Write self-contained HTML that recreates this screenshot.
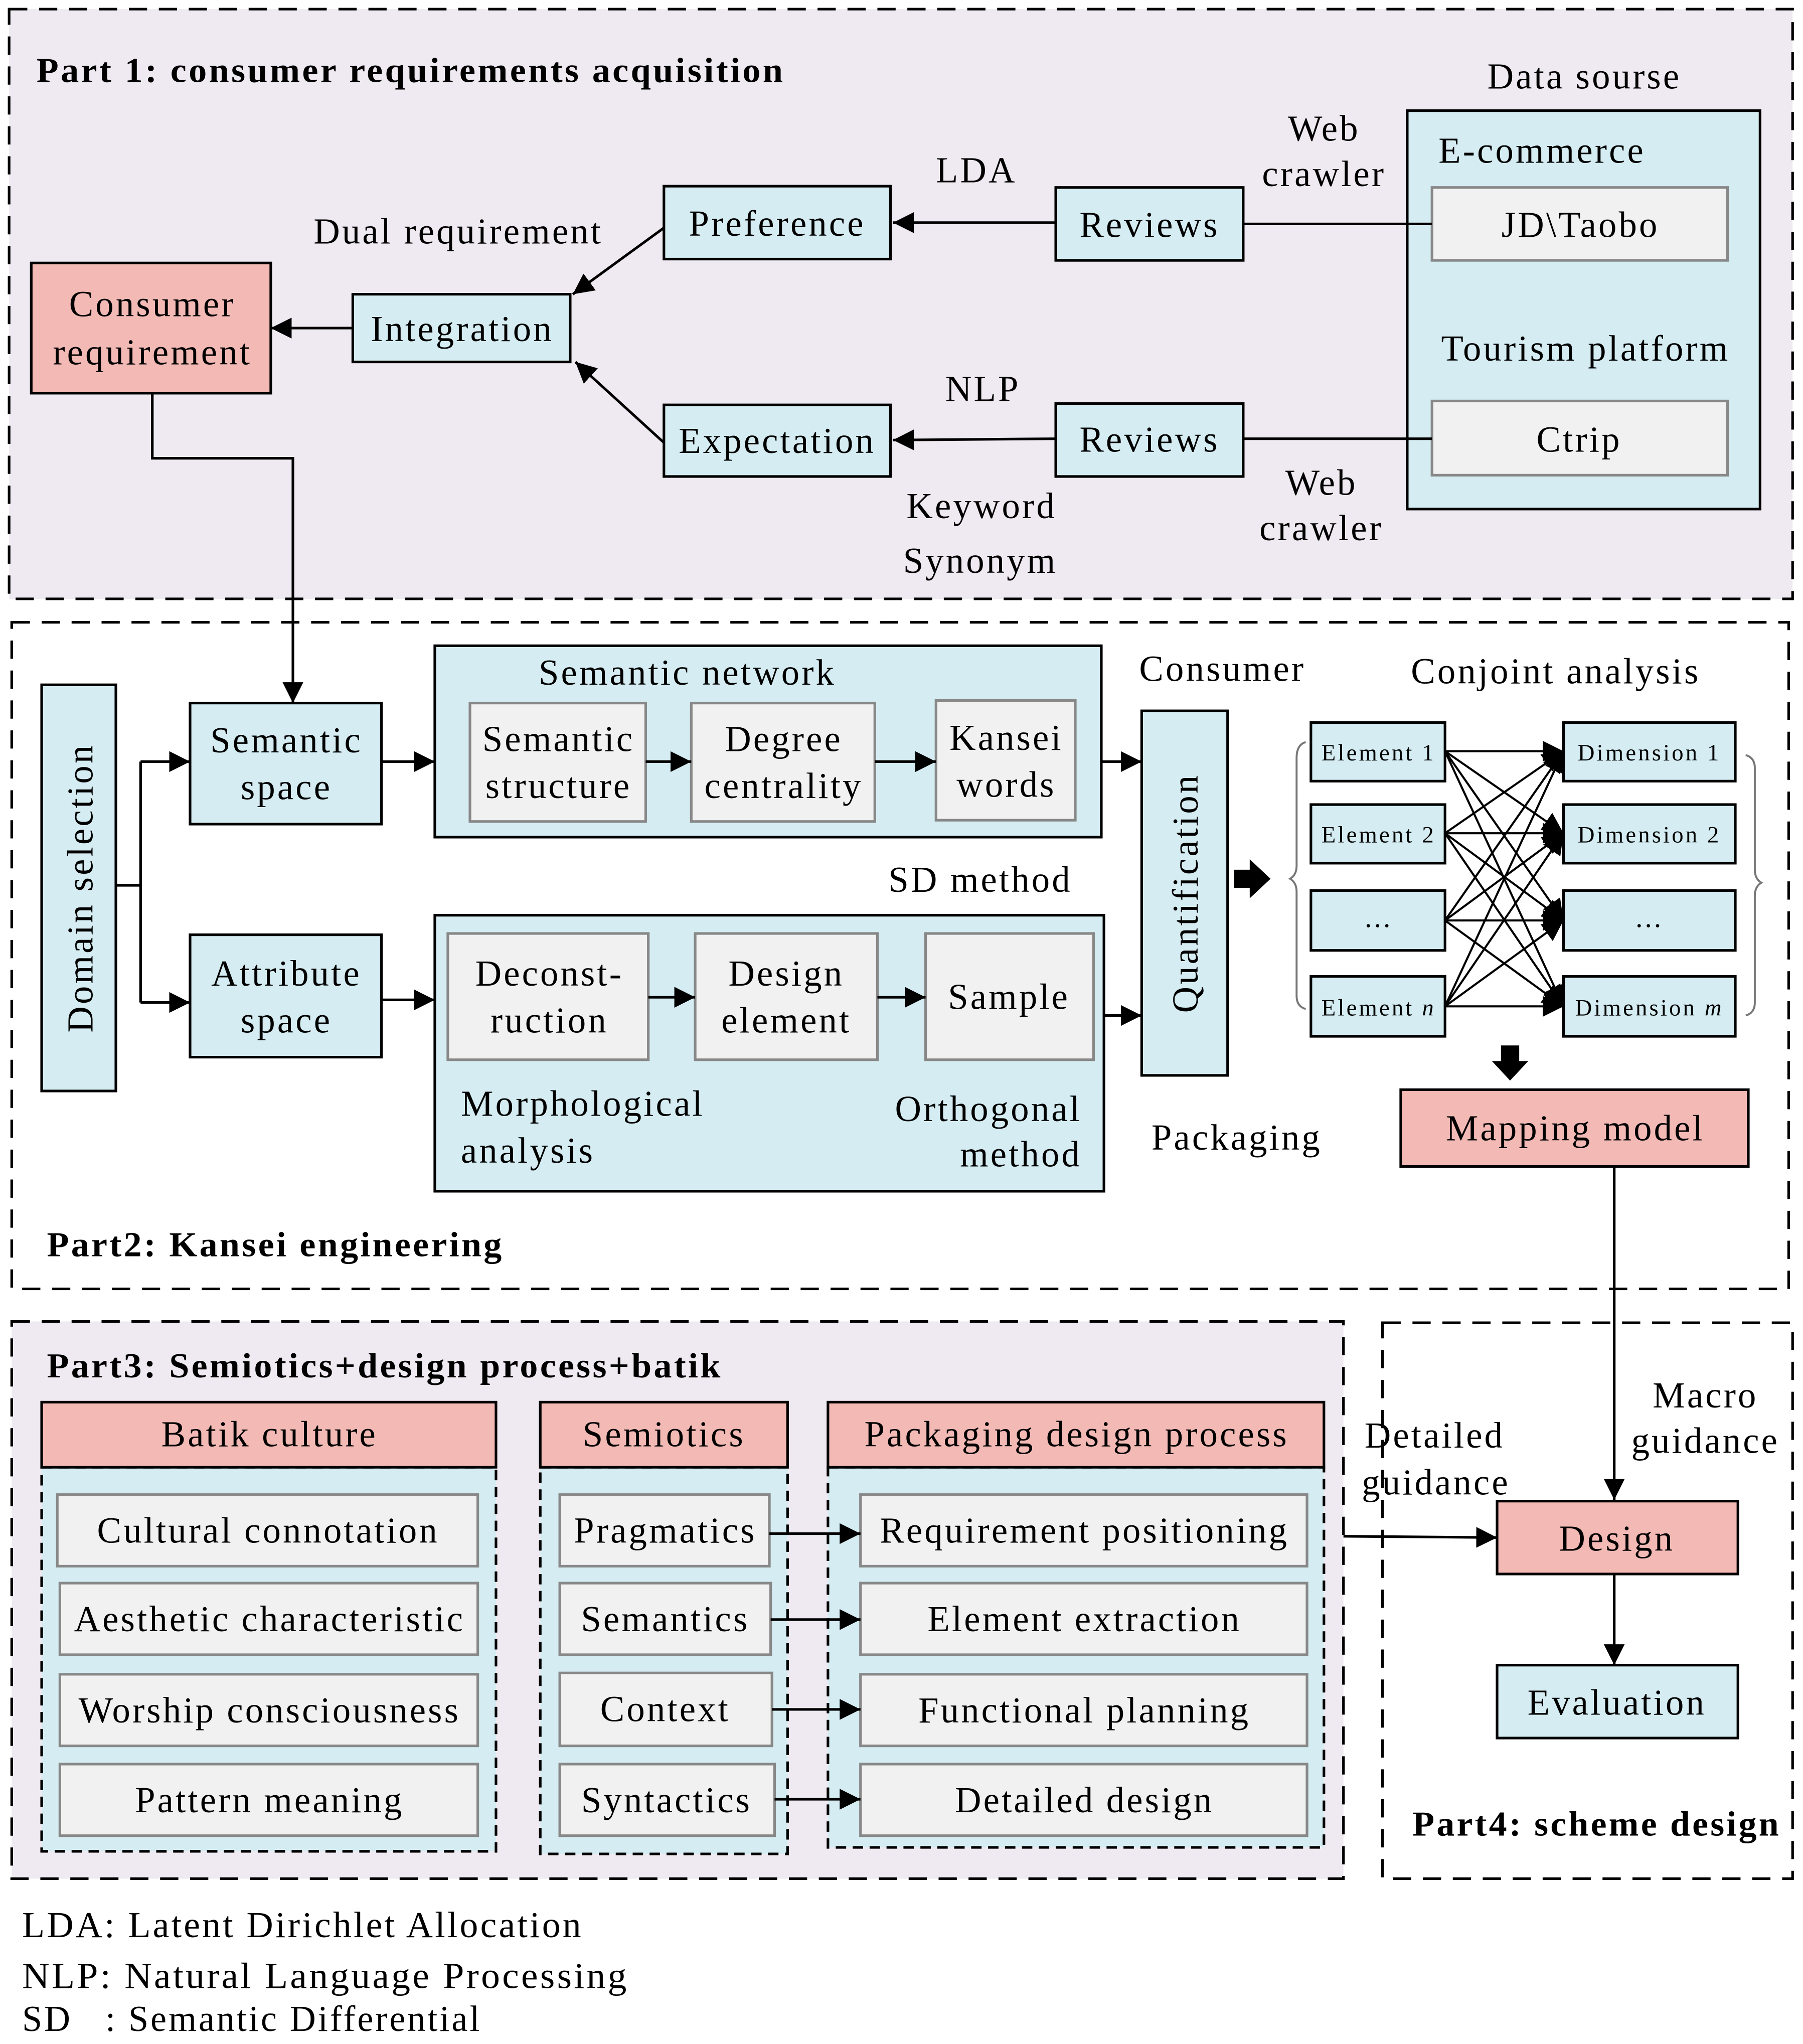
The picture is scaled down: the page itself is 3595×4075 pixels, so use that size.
<!DOCTYPE html>
<html><head><meta charset="utf-8"><style>
html,body{margin:0;padding:0;background:#fff;}
svg{display:block;}
text{font-family:"Liberation Serif",serif;fill:#000;letter-spacing:1.6px;}
</style></head><body>
<svg width="3595" height="4075" viewBox="0 0 1385 1570" preserveAspectRatio="none" xmlns="http://www.w3.org/2000/svg">
<defs>
<marker id="b" viewBox="0 0 10 10" refX="10" refY="5" markerWidth="16" markerHeight="16" markerUnits="userSpaceOnUse" orient="auto"><path d="M0,0L10,5L0,10z" fill="#000"/></marker>
</defs>
<g stroke-width="2" stroke="#000">
<rect x="7" y="7" width="1370" height="453" fill="#efeaf1" stroke-dasharray="14,9"/>
<rect x="9" y="478" width="1365" height="512" fill="#fff" stroke-dasharray="14,9"/>
<rect x="9" y="1015" width="1023" height="428" fill="#efeaf1" stroke-dasharray="14,9"/>
<rect x="1062" y="1016" width="315" height="427" fill="#fff" stroke-dasharray="14,9"/>
</g>
<g stroke="#000" stroke-width="2">
<rect x="1081" y="85" width="271" height="306" fill="#d5edf2"/>
<rect x="1100" y="144" width="227" height="56" fill="#f1f1f1" stroke="#888"/>
<rect x="1100" y="308" width="227" height="57" fill="#f1f1f1" stroke="#888"/>
<rect x="811" y="144" width="144" height="56" fill="#d5edf2"/>
<rect x="811" y="310" width="144" height="56" fill="#d5edf2"/>
<rect x="510" y="143" width="174" height="56" fill="#d5edf2"/>
<rect x="510" y="311" width="174" height="55" fill="#d5edf2"/>
<rect x="271" y="226" width="167" height="52" fill="#d5edf2"/>
<rect x="24" y="202" width="184" height="100" fill="#f3bab5"/>
<line x1="955" y1="172" x2="1100" y2="172"/>
<line x1="955" y1="337" x2="1100" y2="337"/>
<line x1="811" y1="171" x2="686" y2="171" marker-end="url(#b)"/>
<line x1="811" y1="337" x2="686" y2="338" marker-end="url(#b)"/>
<line x1="510" y1="175" x2="440" y2="226" marker-end="url(#b)"/>
<line x1="510" y1="340" x2="442" y2="278" marker-end="url(#b)"/>
<line x1="271" y1="252" x2="208" y2="252" marker-end="url(#b)"/>
<polyline points="117,302 117,352 225,352 225,540" fill="none" marker-end="url(#b)"/>
<rect x="32" y="526" width="57" height="312" fill="#d5edf2"/>
<polyline points="89,680 108,680" fill="none"/>
<line x1="108" y1="585" x2="108" y2="770"/>
<line x1="108" y1="585" x2="146" y2="585" marker-end="url(#b)"/>
<line x1="108" y1="770" x2="146" y2="770" marker-end="url(#b)"/>
<rect x="146" y="540" width="147" height="93" fill="#d5edf2"/>
<rect x="146" y="718" width="147" height="94" fill="#d5edf2"/>
<line x1="293" y1="585" x2="334" y2="585" marker-end="url(#b)"/>
<line x1="293" y1="768" x2="334" y2="768" marker-end="url(#b)"/>
<rect x="334" y="496" width="512" height="147" fill="#d5edf2"/>
<rect x="361" y="540" width="135" height="91" fill="#f1f1f1" stroke="#888"/>
<rect x="531" y="540" width="141" height="91" fill="#f1f1f1" stroke="#888"/>
<rect x="719" y="538" width="107" height="92" fill="#f1f1f1" stroke="#888"/>
<line x1="496" y1="585" x2="531" y2="585" marker-end="url(#b)"/>
<line x1="672" y1="585" x2="719" y2="585" marker-end="url(#b)"/>
<line x1="846" y1="585" x2="877" y2="585" marker-end="url(#b)"/>
<rect x="334" y="703" width="514" height="212" fill="#d5edf2"/>
<rect x="344" y="717" width="154" height="97" fill="#f1f1f1" stroke="#888"/>
<rect x="534" y="717" width="140" height="97" fill="#f1f1f1" stroke="#888"/>
<rect x="711" y="717" width="129" height="97" fill="#f1f1f1" stroke="#888"/>
<line x1="498" y1="766" x2="534" y2="766" marker-end="url(#b)"/>
<line x1="674" y1="766" x2="711" y2="766" marker-end="url(#b)"/>
<line x1="848" y1="780" x2="877" y2="780" marker-end="url(#b)"/>
<rect x="877" y="546" width="66" height="280" fill="#d5edf2"/>
<rect x="1007" y="555" width="103" height="45" fill="#d5edf2"/>
<rect x="1007" y="618" width="103" height="45" fill="#d5edf2"/>
<rect x="1007" y="684" width="103" height="46" fill="#d5edf2"/>
<rect x="1007" y="750" width="103" height="46" fill="#d5edf2"/>
<rect x="1201" y="555" width="132" height="45" fill="#d5edf2"/>
<rect x="1201" y="618" width="132" height="45" fill="#d5edf2"/>
<rect x="1201" y="684" width="132" height="46" fill="#d5edf2"/>
<rect x="1201" y="750" width="132" height="46" fill="#d5edf2"/>
<g stroke-width="1.6">
<line x1="1110" y1="577" x2="1201" y2="577" marker-end="url(#b)"/>
<line x1="1110" y1="577" x2="1201" y2="640" marker-end="url(#b)"/>
<line x1="1110" y1="577" x2="1201" y2="707" marker-end="url(#b)"/>
<line x1="1110" y1="577" x2="1201" y2="773" marker-end="url(#b)"/>
<line x1="1110" y1="640" x2="1201" y2="577" marker-end="url(#b)"/>
<line x1="1110" y1="640" x2="1201" y2="640" marker-end="url(#b)"/>
<line x1="1110" y1="640" x2="1201" y2="707" marker-end="url(#b)"/>
<line x1="1110" y1="640" x2="1201" y2="773" marker-end="url(#b)"/>
<line x1="1110" y1="707" x2="1201" y2="577" marker-end="url(#b)"/>
<line x1="1110" y1="707" x2="1201" y2="640" marker-end="url(#b)"/>
<line x1="1110" y1="707" x2="1201" y2="707" marker-end="url(#b)"/>
<line x1="1110" y1="707" x2="1201" y2="773" marker-end="url(#b)"/>
<line x1="1110" y1="773" x2="1201" y2="577" marker-end="url(#b)"/>
<line x1="1110" y1="773" x2="1201" y2="640" marker-end="url(#b)"/>
<line x1="1110" y1="773" x2="1201" y2="707" marker-end="url(#b)"/>
<line x1="1110" y1="773" x2="1201" y2="773" marker-end="url(#b)"/>
</g>
<path d="M1003,570 Q996,572 996,582 L996,665 Q996,672 991,675 Q996,678 996,685 L996,765 Q996,773 1003,775" fill="none" stroke="#777" stroke-width="1.5"/>
<path d="M1341,580 Q1348,582 1348,590 L1348,668 Q1348,675 1353,678 Q1348,681 1348,688 L1348,770 Q1348,778 1341,780" fill="none" stroke="#777" stroke-width="1.5"/>
<rect x="1076" y="837" width="267" height="59" fill="#f3bab5"/>
<line x1="1240" y1="896" x2="1240" y2="1152" marker-end="url(#b)"/>
<rect x="32" y="1127" width="349" height="295" fill="#d5edf2" stroke-dasharray="8,5"/>
<rect x="32" y="1077" width="349" height="50" fill="#f3bab5"/>
<rect x="415" y="1127" width="190" height="297" fill="#d5edf2" stroke-dasharray="8,5"/>
<rect x="415" y="1077" width="190" height="50" fill="#f3bab5"/>
<rect x="636" y="1127" width="381" height="292" fill="#d5edf2" stroke-dasharray="8,5"/>
<rect x="636" y="1077" width="381" height="50" fill="#f3bab5"/>
<g fill="#f1f1f1" stroke="#888">
<rect x="44" y="1148" width="323" height="55"/>
<rect x="46" y="1216" width="321" height="55"/>
<rect x="46" y="1286" width="321" height="55"/>
<rect x="46" y="1355" width="321" height="55"/>
<rect x="430" y="1148" width="161" height="55"/>
<rect x="430" y="1216" width="162" height="55"/>
<rect x="430" y="1285" width="163" height="56"/>
<rect x="430" y="1355" width="165" height="55"/>
<rect x="661" y="1148" width="343" height="55"/>
<rect x="661" y="1216" width="343" height="55"/>
<rect x="661" y="1286" width="343" height="55"/>
<rect x="661" y="1355" width="343" height="55"/>
</g>
<line x1="591" y1="1178" x2="661" y2="1178" marker-end="url(#b)"/>
<line x1="592" y1="1244" x2="661" y2="1244" marker-end="url(#b)"/>
<line x1="593" y1="1313" x2="661" y2="1313" marker-end="url(#b)"/>
<line x1="595" y1="1382" x2="661" y2="1382" marker-end="url(#b)"/>
<line x1="1032" y1="1180" x2="1150" y2="1181" marker-end="url(#b)"/>
<rect x="1150" y="1153" width="185" height="56" fill="#f3bab5"/>
<rect x="1150" y="1279" width="185" height="56" fill="#d5edf2"/>
<line x1="1240" y1="1209" x2="1240" y2="1279" marker-end="url(#b)"/>
</g>
<path d="M948,668 L960,668 L960,660 L976,675 L960,690 L960,682 L948,682 z" fill="#000"/>
<path d="M1153,803 L1167,803 L1167,815 L1174,815 L1160,830 L1146,815 L1153,815 z" fill="#000"/>

<g font-size="28">
<text x="28" y="63" font-weight="bold" font-size="27" textLength="575" lengthAdjust="spacingAndGlyphs">Part 1: consumer requirements acquisition</text>
<text x="1217" y="68" text-anchor="middle">Data sourse</text>
<text x="1105" y="125">E-commerce</text>
<text x="1214" y="182" text-anchor="middle">JD\Taobo</text>
<text x="1218" y="277" text-anchor="middle">Tourism platform</text>
<text x="1213" y="347" text-anchor="middle">Ctrip</text>
<text x="1017" y="108" text-anchor="middle">Web</text>
<text x="1017" y="143" text-anchor="middle">crawler</text>
<text x="1015" y="380" text-anchor="middle">Web</text>
<text x="1015" y="415" text-anchor="middle">crawler</text>
<text x="883" y="182" text-anchor="middle">Reviews</text>
<text x="883" y="347" text-anchor="middle">Reviews</text>
<text x="597" y="181" text-anchor="middle">Preference</text>
<text x="597" y="348" text-anchor="middle">Expectation</text>
<text x="750" y="140" text-anchor="middle">LDA</text>
<text x="755" y="308" text-anchor="middle">NLP</text>
<text x="754" y="398" text-anchor="middle">Keyword</text>
<text x="753" y="440" text-anchor="middle">Synonym</text>
<text x="352" y="187" text-anchor="middle">Dual requirement</text>
<text x="355" y="262" text-anchor="middle">Integration</text>
<text x="117" y="243" text-anchor="middle">Consumer</text>
<text x="117" y="280" text-anchor="middle">requirement</text>

<text x="0" y="0" text-anchor="middle" transform="translate(71,682) rotate(-90)">Domain selection</text>
<text x="220" y="578" text-anchor="middle">Semantic</text>
<text x="220" y="614" text-anchor="middle">space</text>
<text x="220" y="757" text-anchor="middle">Attribute</text>
<text x="220" y="793" text-anchor="middle">space</text>
<text x="528" y="526" text-anchor="middle">Semantic network</text>
<text x="429" y="577" text-anchor="middle">Semantic</text>
<text x="429" y="613" text-anchor="middle">structure</text>
<text x="602" y="577" text-anchor="middle">Degree</text>
<text x="602" y="613" text-anchor="middle">centrality</text>
<text x="773" y="576" text-anchor="middle">Kansei</text>
<text x="773" y="612" text-anchor="middle">words</text>
<text x="0" y="0" text-anchor="middle" transform="translate(920,686) rotate(-90)">Quantification</text>
<text x="939" y="523" text-anchor="middle">Consumer</text>
<text x="753" y="685" text-anchor="middle">SD method</text>
<text x="950" y="883" text-anchor="middle">Packaging</text>
<text x="422" y="757" text-anchor="middle">Deconst-</text>
<text x="422" y="793" text-anchor="middle">ruction</text>
<text x="604" y="757" text-anchor="middle">Design</text>
<text x="604" y="793" text-anchor="middle">element</text>
<text x="775" y="775" text-anchor="middle">Sample</text>
<text x="354" y="857">Morphological</text>
<text x="354" y="893">analysis</text>
<text x="831" y="861" text-anchor="end">Orthogonal</text>
<text x="831" y="896" text-anchor="end">method</text>
<text x="1195" y="525" text-anchor="middle">Conjoint analysis</text>
<g font-size="18" style="letter-spacing:1.4px">
<text x="1059" y="584" text-anchor="middle">Element 1</text>
<text x="1059" y="647" text-anchor="middle">Element 2</text>
<text x="1059" y="712" text-anchor="middle" font-size="22">...</text>
<text x="1059" y="780" text-anchor="middle">Element <tspan font-style="italic">n</tspan></text>
<text x="1267" y="584" text-anchor="middle">Dimension 1</text>
<text x="1267" y="647" text-anchor="middle">Dimension 2</text>
<text x="1267" y="712" text-anchor="middle" font-size="22">...</text>
<text x="1267" y="780" text-anchor="middle">Dimension <tspan font-style="italic">m</tspan></text>
</g>
<text x="1210" y="876" text-anchor="middle">Mapping model</text>
<text x="36" y="965" font-weight="bold" font-size="27" textLength="351" lengthAdjust="spacingAndGlyphs">Part2: Kansei engineering</text>

<text x="36" y="1058" font-weight="bold" font-size="27" textLength="519" lengthAdjust="spacingAndGlyphs">Part3: Semiotics+design process+batik</text>
<text x="207" y="1111" text-anchor="middle">Batik culture</text>
<text x="510" y="1111" text-anchor="middle">Semiotics</text>
<text x="827" y="1111" text-anchor="middle">Packaging design process</text>
<text x="206" y="1185" text-anchor="middle">Cultural connotation</text>
<text x="207" y="1253" text-anchor="middle">Aesthetic characteristic</text>
<text x="207" y="1323" text-anchor="middle">Worship consciousness</text>
<text x="207" y="1392" text-anchor="middle">Pattern meaning</text>
<text x="511" y="1185" text-anchor="middle">Pragmatics</text>
<text x="511" y="1253" text-anchor="middle">Semantics</text>
<text x="511" y="1322" text-anchor="middle">Context</text>
<text x="512" y="1392" text-anchor="middle">Syntactics</text>
<text x="833" y="1185" text-anchor="middle">Requirement positioning</text>
<text x="833" y="1253" text-anchor="middle">Element extraction</text>
<text x="833" y="1323" text-anchor="middle">Functional planning</text>
<text x="833" y="1392" text-anchor="middle">Detailed design</text>
<text x="1310" y="1081" text-anchor="middle">Macro</text>
<text x="1310" y="1116" text-anchor="middle">guidance</text>
<text x="1102" y="1112" text-anchor="middle">Detailed</text>
<text x="1103" y="1148" text-anchor="middle">guidance</text>
<text x="1242" y="1191" text-anchor="middle">Design</text>
<text x="1242" y="1317" text-anchor="middle">Evaluation</text>
<text x="1085" y="1410" font-weight="bold" font-size="27" textLength="283" lengthAdjust="spacingAndGlyphs">Part4: scheme design</text>
<text x="17" y="1488" textLength="431" lengthAdjust="spacingAndGlyphs">LDA: Latent Dirichlet Allocation</text>
<text x="17" y="1527" textLength="466" lengthAdjust="spacingAndGlyphs">NLP: Natural Language Processing</text>
<text x="17" y="1560" xml:space="preserve" textLength="353" lengthAdjust="spacingAndGlyphs">SD   : Semantic Differential</text>
</g>
</svg>
</body></html>
